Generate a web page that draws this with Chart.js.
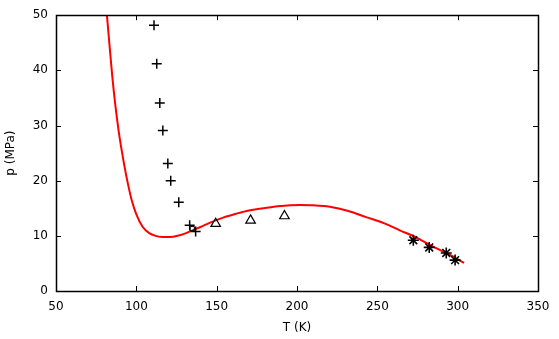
<!DOCTYPE html>
<html>
<head>
<meta charset="utf-8">
<script src="https://cdn.jsdelivr.net/npm/chart.js@4"></script>
<style>
  html, body { margin: 0; padding: 0; background: #fff; }
  #wrap { width: 559px; height: 339px; }
</style>
</head>
<body>
<div id="wrap"><canvas id="chart"></canvas></div>
<script>
// courbe (modèle)
const curveT = [81.7, 83, 85, 87, 89, 91, 93, 95, 97, 100, 104, 108, 112, 116, 119, 123, 127, 131, 135, 140, 146, 154, 162, 170, 179, 188, 196, 202, 210, 222, 232, 243, 254, 264, 275, 285, 295, 304];
const curveP = [50, 45.6, 39.0, 33.5, 29.0, 25.3, 22.0, 19.1, 16.6, 13.9, 11.6, 10.5, 10.0, 9.8, 9.78, 9.85, 10.1, 10.5, 11.0, 11.6, 12.4, 13.3, 14.0, 14.6, 15.0, 15.35, 15.55, 15.6, 15.55, 15.2, 14.5, 13.4, 12.3, 11.0, 9.6, 8.0, 6.6, 5.1];

// mesures
const plusT = [111, 112.7, 114.6, 116.5, 119.6, 121.4, 126.4, 133.2, 136.9];
const plusP = [48.2, 41.2, 34.1, 29.1, 23.1, 20.0, 16.1, 11.9, 10.8];
const squareT = [134.8];
const squareP = [11.3];
const triT = [149.4, 171.1, 192.2];
const triP = [12.2, 12.8, 13.6];
const starT = [272.4, 282.3, 292.9, 298.4];
const starP = [9.2, 7.9, 6.9, 5.6];

const xTicks = [50, 100, 150, 200, 250, 300, 350];
const yTicks = [0, 10, 20, 30, 40, 50];

const pts = (xs, ys) => xs.map((x, i) => ({ x: x, y: ys[i] }));

// cadre + graduations vers l'intérieur (style gnuplot)
const frame = {
  id: 'frame',
  afterDraw(chart) {
    const { ctx, chartArea: a, scales } = chart;
    ctx.save();
    ctx.strokeStyle = '#000';
    ctx.lineWidth = 1;
    const L = 5;
    ctx.beginPath();
    xTicks.forEach(v => {
      const px = Math.round(scales.x.getPixelForValue(v)) + 0.5;
      ctx.moveTo(px, a.bottom); ctx.lineTo(px, a.bottom - L);
      ctx.moveTo(px, a.top); ctx.lineTo(px, a.top + L);
    });
    yTicks.forEach(v => {
      const py = Math.round(scales.y.getPixelForValue(v)) + 0.5;
      ctx.moveTo(a.left, py); ctx.lineTo(a.left + L, py);
      ctx.moveTo(a.right, py); ctx.lineTo(a.right - L, py);
    });
    ctx.stroke();
    ctx.lineWidth = 1.5;
    ctx.strokeRect(Math.round(a.left) + 0.5, Math.round(a.top) + 0.5,
      Math.round(a.right - a.left), Math.round(a.bottom - a.top));
    ctx.restore();
  }
};

const font = { family: 'DejaVu Sans', size: 12 };

new Chart(document.getElementById('chart'), {
  type: 'scatter',
  data: {
    datasets: [
      {
        label: 'plus',
        data: pts(plusT, plusP),
        pointStyle: 'cross',
        radius: 5,
        borderColor: '#000',
        borderWidth: 1.5,
      },
      {
        label: 'carré',
        data: pts(squareT, squareP),
        pointStyle: 'rect',
        radius: 3,
        borderColor: '#000',
        backgroundColor: 'rgba(0,0,0,0)',
        borderWidth: 1,
      },
      {
        label: 'triangles',
        data: pts(triT, triP),
        pointStyle: 'triangle',
        radius: 5.5,
        borderColor: '#000',
        backgroundColor: 'rgba(0,0,0,0)',
        borderWidth: 1.2,
      },
      {
        label: 'étoiles',
        data: pts(starT, starP),
        pointStyle: 'star',
        radius: 5.5,
        borderColor: '#000',
        borderWidth: 1.6,
      },
      {
        label: 'modèle',
        data: pts(curveT, curveP),
        showLine: true,
        cubicInterpolationMode: 'monotone',
        borderColor: '#ff0000',
        borderWidth: 2,
        pointRadius: 0,
        clip: 0,
      },
    ],
  },
  options: {
    responsive: true,
    maintainAspectRatio: false,
    animation: false,
    layout: { padding: { top: 14, right: 21, left: 0, bottom: 0 } },
    plugins: { legend: { display: false }, tooltip: { enabled: false } },
    scales: {
      x: {
        type: 'linear',
        min: 50, max: 350,
        afterBuildTicks: s => { s.ticks = xTicks.map(v => ({ value: v })); },
        afterFit: s => { s.height = 48; },
        grid: { display: false, drawTicks: false },
        border: { display: false },
        ticks: { color: '#000', font: font, padding: 9, maxRotation: 0 },
        title: { display: true, text: 'T (K)', color: '#000', font: font, padding: { top: 6 } },
      },
      y: {
        type: 'linear',
        min: 0, max: 50,
        afterBuildTicks: s => { s.ticks = yTicks.map(v => ({ value: v })); },
        afterFit: s => { s.width = 56; },
        grid: { display: false, drawTicks: false },
        border: { display: false },
        ticks: { color: '#000', font: font, padding: 8 },
        title: { display: true, text: 'p (MPa)', color: '#000', font: font, padding: { bottom: 4 } },
      },
    },
  },
  plugins: [frame],
});
</script>
</body>
</html>
